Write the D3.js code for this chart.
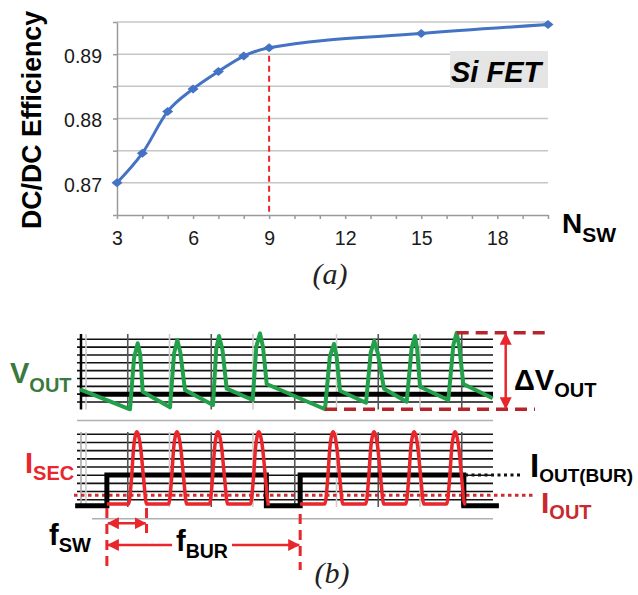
<!DOCTYPE html>
<html>
<head>
<meta charset="utf-8">
<script src="https://cdn.jsdelivr.net/npm/d3@7"></script>
<style>
  html, body { margin: 0; padding: 0; background: #fff; }
  svg { display: block; font-family: "Liberation Sans", Arial, sans-serif; }
</style>
</head>
<body>
<svg id="fig" width="638" height="595"></svg>
<script>
// ---------- (a) data ----------
const nSw = [3, 4, 5, 6, 7, 8, 9, 15, 20];
const efficiency = [0.8700, 0.8746, 0.8811, 0.8846, 0.8873, 0.8897, 0.8910, 0.8932, 0.8946];
const xTickLabels = [3, 6, 9, 12, 15, 18];
const yGrid = [0.865, 0.87, 0.875, 0.88, 0.885, 0.89, 0.895];
const yTickLabels = [0.87, 0.88, 0.89];
const chosenN = 9;

// ---------- (b) data (time in switching divisions, level in grid divisions) ----------
const vOutT = [-0.144, 1.054, 1.150, 1.238, 1.300, 1.358, 2.012, 2.110, 2.187, 2.260, 2.371,
               3.042, 3.120, 3.186, 3.270, 3.370, 3.993, 4.080, 4.168, 4.240, 4.328,
               5.725, 5.840, 5.940, 6.000, 6.084, 6.707, 6.820, 6.905, 6.990, 7.138,
               7.681, 7.800, 7.880, 7.930, 8.000, 8.678, 8.800, 8.879, 8.940, 9.037, 9.741];
const vOutDiv = [1.62, -0.93, 5.6, 7.49, 6.0, 1.31, -0.68, 6.2, 7.91, 6.3, 1.53,
                 -0.38, 6.8, 8.42, 6.6, 1.70, 0.26, 7.1, 8.76, 7.0, 2.30,
                 -0.93, 5.8, 7.40, 5.9, 1.44, -0.09, 6.3, 7.82, 6.2, 1.70,
                 0.04, 6.9, 8.42, 6.8, 1.95, 0.26, 7.3, 8.84, 7.1, 2.30, 0.47];
const vRefDiv = 1;

const burstT = [-0.26, 0.50, 4.32, 5.13, 9.05, 9.89];
const burstDiv = [-0.73, 3.03, -0.73, 3.03, -0.73, -0.73];

const pulseCenters = [[1.22, 2.18, 3.16, 4.14], [5.92, 6.90, 7.86, 8.84]];
const pulseDt = [-0.20, -0.13, -0.08, -0.03, 0, 0.03, 0.09, 0.16, 0.23];
const pulseDiv = [-0.53, 2.6, 6.3, 8.0, 8.3, 8.0, 6.3, 2.6, -0.53];
const iSecBaseDiv = -0.53;
const iOutDiv = 0.54;
const fSwEndT = 1.45;

const svg = d3.select('#fig');
const RED = '#e8262b', DARKRED = '#b5252b', GREEN = '#22a14a';

// ================= (a) =================
const x = d3.scaleLinear().domain([3, 20]).range([117, 548]);
const y = d3.scaleLinear().domain([0.865, 0.895]).range([215, 22]);

svg.append('g').selectAll('line').data(yGrid.slice(1)).join('line')
  .attr('x1', x(3)).attr('x2', x(20))
  .attr('y1', d => y(d)).attr('y2', d => y(d))
  .attr('stroke', '#c6c6c6').attr('stroke-width', 1.5);

const yAxis = svg.append('g').attr('transform', `translate(${x(3)},0)`)
  .call(d3.axisLeft(y).tickValues(yGrid).tickSize(4).tickSizeOuter(0).tickPadding(11)
    .tickFormat(d => yTickLabels.includes(d) ? d3.format('.2f')(d) : ''));

const xAxis = svg.append('g').attr('transform', `translate(0,${y(0.865)})`)
  .call(d3.axisBottom(x).tickValues(d3.range(3, 21)).tickSize(4).tickSizeOuter(0).tickPadding(12)
    .tickFormat(d => xTickLabels.includes(d) ? d : ''));

[yAxis, xAxis].forEach(a => {
  a.selectAll('path, line').attr('stroke', '#9a9a9a').attr('stroke-width', 1.5);
  a.selectAll('text').attr('font-size', 19.5).attr('fill', '#1a1a1a')
    .attr('font-family', '"Liberation Sans", Arial, sans-serif');
});
yAxis.selectAll('text').attr('dy', '0.42em');

// dashed marker at the chosen number of switches
svg.append('line')
  .attr('x1', x(chosenN)).attr('x2', x(chosenN))
  .attr('y1', y(efficiency[nSw.indexOf(chosenN)]) + 8).attr('y2', y(0.865))
  .attr('stroke', RED).attr('stroke-width', 2).attr('stroke-dasharray', '6,4');

svg.append('path')
  .datum(nSw.map((n, i) => [n, efficiency[i]]))
  .attr('fill', 'none').attr('stroke', '#4472c4').attr('stroke-width', 3)
  .attr('d', d3.line().x(d => x(d[0])).y(d => y(d[1])).curve(d3.curveMonotoneX));

svg.append('g').selectAll('path').data(nSw).join('path')
  .attr('transform', (d, i) => `translate(${x(d)},${y(efficiency[i])})`)
  .attr('d', 'M-5.5,0L0,-4.5L5.5,0L0,4.5Z')
  .attr('fill', '#4472c4');

svg.append('rect').attr('x', 450).attr('y', 51).attr('width', 98).attr('height', 37).attr('fill', '#e4e5e4');
svg.append('text').attr('x', 451).attr('y', 81.5)
  .attr('font-size', 29).attr('font-weight', 'bold').attr('font-style', 'italic').text('Si FET');

svg.append('text').attr('x', 562).attr('y', 233).attr('font-weight', 'bold')
  .call(t => t.append('tspan').attr('font-size', 28).text('N'))
  .call(t => t.append('tspan').attr('font-size', 21).attr('dy', 8.5).text('SW'));

svg.append('text')
  .attr('transform', 'translate(41,229) rotate(-90)')
  .attr('font-size', 28).attr('font-weight', 'bold')
  .attr('textLength', 218).attr('lengthAdjust', 'spacingAndGlyphs')
  .text('DC/DC Efficiency');

svg.append('text').attr('x', 330).attr('y', 284).attr('text-anchor', 'middle')
  .attr('font-family', '"Liberation Serif", "Times New Roman", serif')
  .attr('font-style', 'italic').attr('font-size', 30).attr('fill', '#222').text('(a)');

// ================= (b) =================
const tx = d3.scaleLinear().domain([0, 10]).range([86, 503.5]);
const yV = d3.scaleLinear().domain([0, 8]).range([402, 339.3]);
const yI = d3.scaleLinear().domain([0, 8]).range([499.7, 434.3]);
const gridL = 77, gridR = 493;
const divs = d3.range(0, 9);
const cols = d3.range(0, 10);

const defs = svg.append('defs');
defs.append('marker').attr('id', 'arr')
  .attr('viewBox', '0 0 12 12').attr('refX', 11).attr('refY', 6)
  .attr('markerWidth', 12).attr('markerHeight', 12).attr('markerUnits', 'userSpaceOnUse')
  .attr('orient', 'auto-start-reverse')
  .append('path').attr('d', 'M0,0L12,6L0,12Z').attr('fill', RED);

function drawGrid(ys, top, bottom, leftDark) {
  const g = svg.append('g');
  g.selectAll('line.h').data(divs).join('line')
    .attr('x1', gridL).attr('x2', gridR)
    .attr('y1', d => ys(d)).attr('y2', d => ys(d))
    .attr('stroke', '#111').attr('stroke-width', 1.6);
  g.selectAll('line.v').data(cols).join('line')
    .attr('x1', d => tx(d)).attr('x2', d => tx(d))
    .attr('y1', top).attr('y2', bottom)
    .attr('stroke', d => d % 2 ? '#555' : '#cfcfcf').attr('stroke-width', 1.6);
  g.append('line').attr('x1', 81).attr('x2', 81).attr('y1', top).attr('y2', bottom)
    .attr('stroke', leftDark ? '#000' : '#aaa').attr('stroke-width', leftDark ? 2.5 : 1.6);
}

drawGrid(yV, 334, 409.5, true);
drawGrid(yI, 432, 507, false);

// separators
svg.append('line').attr('x1', 77).attr('x2', 493).attr('y1', 420.5).attr('y2', 420.5)
  .attr('stroke', '#b0b0b0').attr('stroke-width', 1.5);
svg.append('line').attr('x1', 92).attr('x2', 493).attr('y1', 518.7).attr('y2', 518.7)
  .attr('stroke', '#b0b0b0').attr('stroke-width', 1.5);

// reference output voltage level
svg.append('line').attr('x1', 81).attr('x2', gridR).attr('y1', yV(vRefDiv)).attr('y2', yV(vRefDiv))
  .attr('stroke', '#000').attr('stroke-width', 5);

// V_OUT ripple
svg.append('path')
  .datum(vOutT.map((t, i) => [t, vOutDiv[i]]))
  .attr('fill', 'none').attr('stroke', GREEN).attr('stroke-width', 4).attr('stroke-linejoin', 'round')
  .attr('d', d3.line().x(d => tx(d[0])).y(d => yV(d[1])));

// ripple bounds
const vMax = d3.max(vOutDiv), vMin = d3.min(vOutDiv);
const tMax = vOutT[vOutDiv.indexOf(vMax)], tMin = vOutT[vOutDiv.lastIndexOf(vMin)];
svg.append('line').attr('x1', tx(tMax)).attr('x2', 548).attr('y1', yV(vMax)).attr('y2', yV(vMax))
  .attr('stroke', DARKRED).attr('stroke-width', 3.5).attr('stroke-dasharray', '12,7');
svg.append('line').attr('x1', tx(tMin)).attr('x2', 535).attr('y1', yV(vMin)).attr('y2', yV(vMin))
  .attr('stroke', DARKRED).attr('stroke-width', 3.5).attr('stroke-dasharray', '12,7');
svg.append('line').attr('x1', 505.7).attr('x2', 505.7).attr('y1', yV(vMax) + 1).attr('y2', yV(vMin) - 1)
  .attr('stroke', RED).attr('stroke-width', 2.5)
  .attr('marker-start', 'url(#arr)').attr('marker-end', 'url(#arr)');

// average output current
svg.append('line').attr('x1', 74).attr('x2', 535).attr('y1', yI(iOutDiv)).attr('y2', yI(iOutDiv))
  .attr('stroke', '#d32a2f').attr('stroke-width', 3).attr('stroke-dasharray', '3.5,3.5');

// burst current
svg.append('path')
  .datum(burstT.map((t, i) => [t, burstDiv[i]]))
  .attr('fill', 'none').attr('stroke', '#000').attr('stroke-width', 5)
  .attr('d', d3.line().x(d => tx(d[0])).y(d => yI(d[1])).curve(d3.curveStepAfter));

// secondary current pulses, one path per burst
pulseCenters.forEach((centers, b) => {
  const start = burstT[1 + 2 * b], end = burstT[2 + 2 * b];
  const pts = [[start, iSecBaseDiv]];
  centers.forEach(c => pulseDt.forEach((dt, k) => pts.push([c + dt, pulseDiv[k]])));
  pts.push([Math.min(end, d3.max(pts, p => p[0])), iSecBaseDiv]);
  svg.append('path').datum(pts)
    .attr('fill', 'none').attr('stroke', RED).attr('stroke-width', 3.5).attr('stroke-linejoin', 'round')
    .attr('d', d3.line().x(d => tx(d[0])).y(d => yI(d[1])).curve(d3.curveMonotoneX));
});

// burst level leader
svg.append('line').attr('x1', 465).attr('x2', 522).attr('y1', yI(burstDiv[1])).attr('y2', yI(burstDiv[1]))
  .attr('stroke', '#111').attr('stroke-width', 3).attr('stroke-dasharray', '3,3.5');

// frequency markers
const fDash = (t, y1, y2) => svg.append('line').attr('x1', tx(t)).attr('x2', tx(t))
  .attr('y1', y1).attr('y2', y2).attr('stroke', RED).attr('stroke-width', 3).attr('stroke-dasharray', '10,6');
fDash(burstT[1], 508, 570);
fDash(fSwEndT, 508, 533);
fDash(burstT[3], 514, 570);

svg.append('line').attr('x1', tx(burstT[1]) + 1).attr('x2', tx(fSwEndT) - 1).attr('y1', 523.3).attr('y2', 523.3)
  .attr('stroke', RED).attr('stroke-width', 2.5)
  .attr('marker-start', 'url(#arr)').attr('marker-end', 'url(#arr)');
svg.append('line').attr('x1', tx(burstT[1]) + 1).attr('x2', 172).attr('y1', 545).attr('y2', 545)
  .attr('stroke', RED).attr('stroke-width', 2.5).attr('marker-start', 'url(#arr)');
svg.append('line').attr('x1', 232).attr('x2', tx(burstT[3]) - 1).attr('y1', 545).attr('y2', 545)
  .attr('stroke', RED).attr('stroke-width', 2.5).attr('marker-end', 'url(#arr)');

// labels
function subLabel(xp, yp, main, sub, color, mainSize, subSize, dy) {
  svg.append('text').attr('x', xp).attr('y', yp).attr('font-weight', 'bold').attr('fill', color)
    .call(t => t.append('tspan').attr('font-size', mainSize).text(main))
    .call(t => t.append('tspan').attr('font-size', subSize).attr('dy', dy).text(sub));
}
subLabel(10, 383, 'V', 'OUT', '#3b7a3d', 29, 20, 8.5);
subLabel(25, 472.5, 'I', 'SEC', RED, 29, 20, 7);
subLabel(49, 545, 'f', 'SW', '#000', 29, 20, 7);
subLabel(176, 551, 'f', 'BUR', '#000', 29, 19.5, 7);
subLabel(514, 390, 'ΔV', 'OUT', '#000', 29, 20, 7);
subLabel(530, 477, 'I', 'OUT(BUR)', '#000', 33, 19, 5);
subLabel(541, 513, 'I', 'OUT', '#c9282e', 30, 20, 5.5);

svg.append('text').attr('x', 332).attr('y', 583).attr('text-anchor', 'middle')
  .attr('font-family', '"Liberation Serif", "Times New Roman", serif')
  .attr('font-style', 'italic').attr('font-size', 30).attr('fill', '#222').text('(b)');
</script>
</body>
</html>
